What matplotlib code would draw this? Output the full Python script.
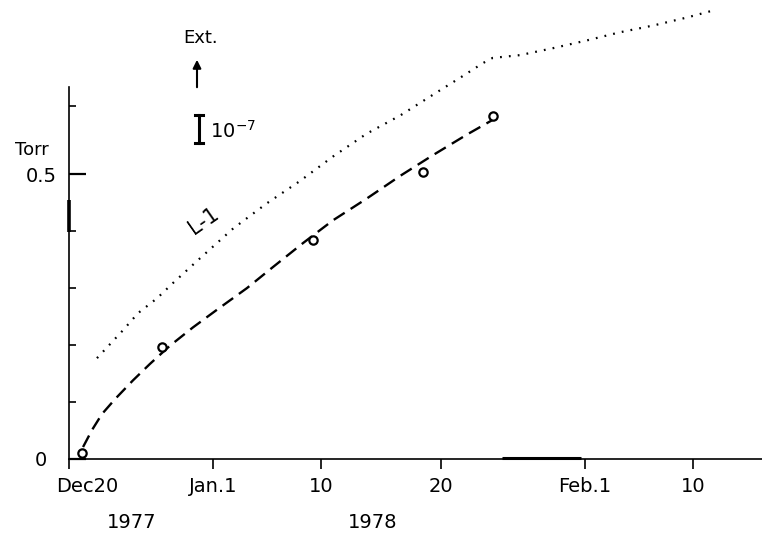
import matplotlib
matplotlib.use("Agg")
import matplotlib.pyplot as plt
import matplotlib.transforms as mtransforms
from matplotlib.lines import Line2D

plt.rcParams['font.family'] = ['DejaVu Sans']
plt.rcParams['mathtext.fontset'] = 'dejavusans'

# days after Dec 20 1977
tick_days = [0, 12, 21, 31, 43, 52]
tick_labels = ["Dec20", "Jan.1", "10", "20", "Feb.1", "10"]

# measured points (circles)
obs_days = [1.1, 7.75, 20.3, 29.5, 35.3]
obs_torr = [0.011, 0.196, 0.384, 0.503, 0.602]

# dashed fitted curve
fit_days = [1.17, 1.92, 2.75, 3.83, 5.33, 6.75, 8.42, 10.33, 12.33, 14.83, 17.0, 19.5,
            22.0, 24.8, 27.6, 30.3, 33.2, 35.7]
fit_torr = [0.021, 0.051, 0.079, 0.105, 0.138, 0.167, 0.199, 0.231, 0.262, 0.300, 0.337, 0.379,
            0.419, 0.457, 0.497, 0.533, 0.570, 0.600]

# dotted L-1 curve
l1_days = [2.33, 4.5, 5.75, 7.33, 8.67, 10.9, 13.7, 16.5, 19.25, 22.0, 24.8, 27.6, 30.9,
           32.5, 34.5, 35.3, 37.6, 40.3, 43.2, 45.9, 48.7, 51.5, 53.8]
l1_torr = [0.177, 0.226, 0.256, 0.282, 0.309, 0.352, 0.405, 0.449, 0.488, 0.531, 0.571, 0.603, 0.647,
           0.668, 0.695, 0.704, 0.709, 0.721, 0.735, 0.749, 0.761, 0.775, 0.788]

W, H = 762, 536
def px(x, y):
    return x / W, 1 - y / H

fig = plt.figure(figsize=(W / 100, H / 100), dpi=100)
ax = fig.add_axes([69 / W, 77 / H, 1 - 69 / W, 372 / H])
ax.set_xlim(0, 57.75)
ax.set_ylim(0, 0.653)

ax.plot(fit_days, fit_torr, color='black', lw=1.7, ls=(0, (5.5, 3)))
ax.plot(l1_days, l1_torr, color='black', lw=1.6, ls=(0, (0.8, 3.2)), clip_on=False)
ax.plot(obs_days, obs_torr, 'o', ms=6, mfc='white', mec='black', mew=1.6, ls='none')

for s in ['top', 'right']:
    ax.spines[s].set_visible(False)
for s in ['left', 'bottom']:
    ax.spines[s].set_linewidth(1.2)

# thick parts of the axes
ax.plot([0, 0], [0.398, 0.454], color='black', lw=2.6, clip_on=False, solid_capstyle='butt')
ax.plot([36.1, 42.7], [0.002, 0.002], color='black', lw=2.2, clip_on=False, solid_capstyle='butt')

ax.set_xticks(tick_days)
ax.set_xticklabels(tick_labels, fontsize=14)
ax.tick_params(axis='x', direction='out', length=7, width=1.2, pad=6)
lbl = ax.get_xticklabels()[0]
lbl.set_transform(lbl.get_transform() + mtransforms.ScaledTranslation(18 / 100, 0, fig.dpi_scale_trans))

ax.set_yticks([0, 0.5])
ax.set_yticklabels(["0", "0.5"], fontsize=14)
ax.set_yticks([0.1, 0.2, 0.3, 0.4, 0.62], minor=True)
ax.tick_params(axis='y', which='major', direction='in', length=12, width=1.6, pad=9)
ax.tick_params(axis='y', which='minor', direction='in', length=5, width=1.2)
lbl0 = ax.get_yticklabels()[0]
lbl0.set_transform(lbl0.get_transform() + mtransforms.ScaledTranslation(-10 / 100, 0, fig.dpi_scale_trans))

fig.text(*px(32, 150), "Torr", fontsize=13, ha='center', va='center')
fig.text(*px(132, 523), "1977", fontsize=14, ha='center', va='center')
fig.text(*px(373, 523), "1978", fontsize=14, ha='center', va='center')

ax.text(11.25, 0.418, "L-1", fontsize=15, rotation=35, ha='center', va='center')

# Ext. arrow and scale bar
fig.text(*px(201, 38), "Ext.", fontsize=13, ha='center', va='center')
ax.annotate("", xy=px(197, 57), xytext=px(197, 90), xycoords='figure fraction',
            textcoords='figure fraction',
            arrowprops=dict(arrowstyle='-|>', color='black', lw=1.5, mutation_scale=12))
bx = 199
fig.add_artist(Line2D([bx / W, bx / W], [1 - 115 / H, 1 - 143 / H], color='black', lw=2.2))
for yy in (115, 143):
    fig.add_artist(Line2D([(bx - 4) / W, (bx + 4) / W], [1 - yy / H, 1 - yy / H], color='black', lw=2.2))
fig.text(*px(210, 131), "10$^{-7}$", fontsize=14, ha='left', va='center')

fig.savefig("out.png", dpi=100)
